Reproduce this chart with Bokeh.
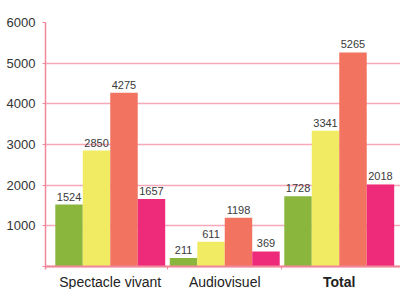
from bokeh.plotting import figure
from bokeh.models import ColumnDataSource, FixedTicker, Label, Range1d
from bokeh.core.properties import value
from bokeh.embed import file_html
from bokeh.resources import INLINE

# ---- data ----
categories = ["Spectacle vivant", "Audiovisuel", "Total"]
series_1 = [1524, 211, 1728]
series_2 = [2850, 611, 3341]
series_3 = [4275, 1198, 5265]
series_4 = [1657, 369, 2018]
y_ticks = [0, 1000, 2000, 3000, 4000, 5000, 6000]

# ---- style ----
colors = ["#8AB63E", "#F0EB62", "#F2735F", "#EE2A7B"]
offsets = [-0.36, -0.12, 0.12, 0.36]
bar_w = 0.24
FONT = "Liberation Sans"
PINK_AXIS = "#F2879C"
PINK_GRID = "#F6A9B7"

# frame extends below zero so the category names can sit inside it
p = figure(width=400, height=289, output_backend="svg", toolbar_location=None,
           x_range=Range1d(-0.0655, 3.035), y_range=Range1d(-566, 6000),
           min_border_left=45, min_border_right=0, min_border_top=22,
           min_border_bottom=0)
p.outline_line_color = None
p.background_fill_color = "white"
p.border_fill_color = "white"

all_series = [series_1, series_2, series_3, series_4]
for j, vals in enumerate(all_series):
    xs = [i + 0.5 + offsets[j] for i in range(len(categories))]
    src = ColumnDataSource(dict(x=xs, top=vals, label=[str(v) for v in vals]))
    p.vbar(x="x", top="top", width=bar_w, bottom=0, source=src,
           fill_color=colors[j], line_color=None)
    p.text(x="x", y="top", text="label", source=src, y_offset=-4,
           text_align="center", text_baseline="bottom",
           text_font=value(FONT), text_font_size="11px", text_color="#3A3A3A")

# y axis
p.yaxis.ticker = FixedTicker(ticks=y_ticks)
p.yaxis.bounds = (-74, 6000)
p.yaxis.major_label_overrides = {0: ""}
p.yaxis.major_label_text_font = FONT
p.yaxis.major_label_text_font_size = "13px"
p.yaxis.major_label_text_color = "#333333"
p.yaxis.major_label_standoff = 7
p.yaxis.axis_line_color = PINK_AXIS
p.yaxis.axis_line_width = 1.5
p.yaxis.major_tick_line_color = PINK_AXIS
p.yaxis.major_tick_in = 0
p.yaxis.major_tick_out = 3
p.yaxis.minor_tick_line_color = None

p.ygrid.ticker = FixedTicker(ticks=y_ticks)
p.ygrid.grid_line_color = PINK_GRID
p.ygrid.grid_line_width = 1.5
p.xgrid.grid_line_color = None

# x axis placed at y = 0, separator ticks only
p.xaxis.fixed_location = 0
p.xaxis.ticker = FixedTicker(ticks=[], minor_ticks=[1, 2])
p.xaxis.major_label_text_font_size = "0px"
p.xaxis.axis_line_color = PINK_AXIS
p.xaxis.axis_line_width = 2
p.xaxis.minor_tick_line_color = PINK_AXIS
p.xaxis.minor_tick_in = 0
p.xaxis.minor_tick_out = 3
p.xaxis.major_tick_line_color = None

for i, cat in enumerate(categories):
    p.add_layout(Label(x=i + 0.5, y=16, x_units="data", y_units="screen",
                       text=cat, text_align="center", text_baseline="top",
                       text_font=FONT, text_font_size="14px",
                       text_font_style="bold" if cat == "Total" else "normal",
                       text_color="#222222"))

open("out.html", "w").write(file_html(p, INLINE))
